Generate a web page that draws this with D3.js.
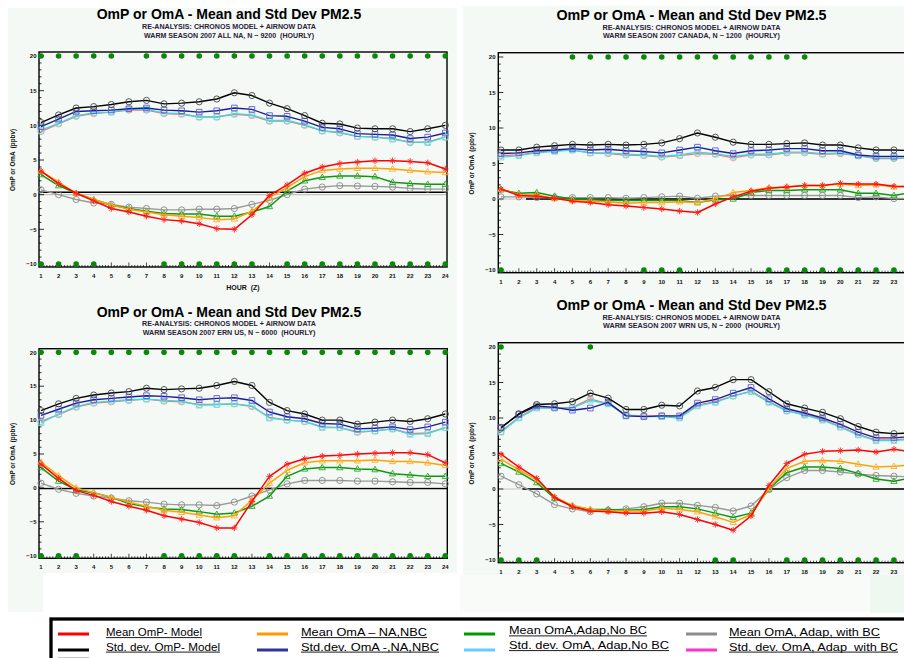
<!DOCTYPE html>
<html>
<head>
<meta charset="utf-8">
<script src="https://cdn.jsdelivr.net/npm/d3@7"></script>
<style>
  body { margin: 0; background: #ffffff; }
  svg { display: block; }
</style>
</head>
<body>
<svg id="chart" width="904" height="658"></svg>
<script>
// ---------- data ----------
const hours = d3.range(1, 25);
const yTickValues = [-10, -5, 0, 5, 10, 15, 20];

const titleText = "OmP or OmA - Mean and Std Dev PM2.5";
const subtitleText = "RE-ANALYSIS: CHRONOS MODEL + AIRNOW DATA";
const regionLines = [
  "WARM SEASON 2007 ALL NA, N ~ 9200  (HOURLY)",
  "WARM SEASON 2007 CANADA, N ~ 1200  (HOURLY)",
  "WARM SEASON 2007 ERN US, N ~ 6000  (HOURLY)",
  "WARM SEASON 2007 WRN US, N ~ 2000  (HOURLY)"
];
const yAxisLabel = "OmP or OmA  (ppbv)";
const xAxisLabel = "HOUR  (Z)";

// All North America
const naStdOmP   = [10.4,11.5,12.5,12.7,13.0,13.4,13.6,13.1,13.2,13.4,13.8,14.7,14.3,13.2,12.4,11.4,10.3,10.2,9.6,9.5,9.5,9.1,9.5,10.0];
const naStdNBC   = [9.8,10.9,12.0,12.1,12.2,12.4,12.5,12.2,12.1,11.9,12.1,12.5,12.3,11.4,11.3,10.6,9.7,9.5,8.8,8.7,8.6,8.1,8.3,8.9];
const naStdAdap  = [9.3,10.3,11.4,11.8,11.9,12.3,12.3,11.8,11.7,11.2,11.2,11.7,11.5,10.7,10.7,10.1,9.2,9.0,8.4,8.3,8.0,7.6,7.5,8.3];
const naStdBC    = [9.1,10.2,11.3,11.7,11.9,12.2,12.2,11.7,11.6,11.2,11.2,11.6,11.4,10.6,10.6,10.0,9.2,8.9,8.4,8.3,8.1,7.5,7.6,8.3];
const naMeanOmP  = [3.4,1.6,0.2,-0.9,-2.0,-2.5,-3.1,-3.6,-3.8,-4.2,-4.9,-5.0,-2.9,-0.1,1.4,3.1,4.0,4.5,4.7,4.9,4.9,4.8,4.6,3.7];
const naMeanNBC  = [3.4,1.8,0.2,-0.7,-1.5,-2.1,-2.5,-2.9,-3.1,-3.3,-3.6,-3.5,-2.4,-0.4,1.0,2.6,3.5,3.7,3.8,3.8,3.7,3.5,3.3,3.2];
const naMeanAdap = [2.9,1.3,0.2,-0.7,-1.5,-2.0,-2.4,-2.7,-2.8,-2.8,-3.1,-3.1,-2.5,-1.7,0.5,2.0,2.5,2.7,2.7,2.6,1.8,1.6,1.5,1.5];
const naMeanBC   = [0.7,0.0,-0.7,-1.2,-1.4,-1.8,-2.0,-2.2,-2.2,-2.1,-2.1,-2.0,-1.4,-0.8,0.0,0.8,1.1,1.3,1.25,1.2,1.1,0.9,0.8,0.8];

// Canada
const caStdOmP   = [6.9,6.9,7.3,7.5,7.7,7.6,7.7,7.6,7.7,7.9,8.5,9.3,8.7,8.0,7.7,7.7,7.8,7.9,7.6,7.6,7.2,6.9,6.9,6.8];
const caStdNBC   = [6.4,6.5,6.8,6.9,7.1,6.9,7.0,6.8,6.7,6.5,6.9,7.3,6.8,6.4,6.8,6.9,7.1,7.1,6.8,6.8,6.2,6.0,6.0,6.0];
const caStdAdap  = [5.9,6.1,6.5,6.7,6.9,6.5,6.5,6.3,6.2,6.0,6.2,6.6,6.4,6.0,6.3,6.3,6.6,6.6,6.4,6.5,6.1,5.8,5.8,5.8];
const caStdBC    = [6.1,6.2,6.6,6.8,6.9,6.5,6.4,6.2,6.1,5.9,6.1,6.4,6.3,5.8,6.2,6.2,6.5,6.5,6.3,6.4,6.1,5.7,5.7,5.8];
const caMeanOmP  = [1.4,0.5,0.4,0.1,-0.3,-0.5,-0.8,-1.0,-1.2,-1.4,-1.7,-1.9,-0.7,0.3,1.1,1.5,1.7,1.9,1.9,2.2,2.1,2.1,1.8,1.7];
const caMeanNBC  = [1.4,0.6,0.6,0.05,-0.2,-0.3,-0.4,-0.6,-0.5,-0.5,-0.4,-0.5,0.05,0.9,1.2,1.6,1.7,1.9,1.9,2.1,1.9,2.0,1.7,1.8];
const caMeanAdap = [1.3,0.8,0.9,0.4,0.0,-0.1,-0.2,-0.2,-0.2,-0.2,-0.2,-0.5,-0.1,0.0,0.9,1.2,1.2,1.3,1.3,1.3,0.8,0.8,0.5,0.9];
const caMeanBC   = [0.3,0.3,0.2,0.2,0.2,0.2,0.2,0.1,0.2,0.3,0.4,0.1,0.4,0.5,0.5,0.5,0.5,0.5,0.5,0.5,0.2,0.3,0.05,0.1];

// Eastern US
const eStdOmP    = [11.4,12.4,13.2,13.7,14.0,14.2,14.7,14.5,14.6,14.7,15.1,15.7,15.1,12.6,11.4,10.9,10.0,10.0,9.4,9.7,10.0,9.8,10.2,10.9];
const eStdNBC    = [10.7,11.6,12.5,13.0,13.2,13.4,13.6,13.5,13.3,13.0,13.2,13.3,12.9,11.2,10.5,10.2,9.5,9.4,8.7,8.8,9.0,8.6,9.0,9.7];
const eStdAdap   = [9.6,10.9,12.0,12.6,12.8,13.0,13.1,12.9,12.8,12.2,12.3,12.4,12.1,10.3,10.0,9.8,8.9,8.9,8.3,8.4,8.7,7.9,8.0,8.9];
const eStdBC     = [9.8,10.8,11.9,12.5,12.7,12.9,13.1,12.8,12.7,12.3,12.3,12.4,12.0,10.4,10.0,9.8,9.0,8.9,8.2,8.4,8.7,8.0,8.1,8.9];
const eMeanOmP   = [3.5,1.4,-0.4,-1.1,-2.0,-2.7,-3.3,-4.1,-4.6,-5.1,-5.9,-5.9,-2.0,1.7,3.5,4.3,4.7,4.8,5.0,5.1,5.2,5.2,4.9,3.7];
const eMeanNBC   = [3.8,1.8,0.0,-0.7,-1.4,-2.1,-2.7,-3.3,-3.6,-4.0,-4.4,-4.1,-1.8,0.7,2.6,3.7,4.0,4.0,4.0,4.1,3.9,3.9,3.7,3.3];
const eMeanAdap  = [3.0,1.0,-0.3,-0.7,-1.4,-2.3,-2.8,-3.1,-3.2,-3.5,-3.9,-3.7,-2.7,-1.2,1.7,2.8,3.0,3.0,2.8,2.7,2.1,1.9,1.7,1.7];
const eMeanBC    = [0.7,-0.2,-0.8,-1.2,-1.5,-1.9,-2.1,-2.4,-2.5,-2.5,-2.6,-2.1,-1.2,-0.3,0.6,1.1,1.1,1.1,1.0,1.0,0.9,0.8,0.8,0.6];

// Western US
const wStdOmP    = [8.6,10.6,11.9,12.0,12.3,13.5,12.8,11.2,11.2,11.8,11.7,13.8,14.3,15.4,15.4,13.7,12.0,11.4,10.8,9.9,8.8,8.0,7.8,7.9];
const wStdNBC    = [8.7,10.5,11.7,11.5,11.1,11.4,12.2,10.3,10.2,10.3,10.3,12.1,12.6,13.5,14.3,12.7,11.3,10.7,10.0,9.1,8.0,7.2,7.2,7.4];
const wStdAdap   = [8.0,10.0,11.4,11.4,11.4,12.5,12.0,10.4,10.2,10.2,10.0,11.7,12.2,13.1,13.7,12.2,11.0,10.4,9.7,8.7,7.6,6.8,6.8,7.0];
const wStdBC     = [8.1,10.1,11.5,11.4,11.5,12.7,12.0,10.4,10.3,10.3,10.1,11.8,12.3,13.1,13.8,12.3,11.0,10.5,9.8,8.8,7.7,6.9,6.9,7.1];
const wMeanOmP   = [4.9,3.1,1.5,-1.2,-2.5,-3.1,-3.2,-3.4,-3.4,-3.2,-3.6,-4.3,-5.0,-5.8,-3.8,0.5,3.6,4.9,5.3,5.4,5.5,5.2,5.6,5.2];
const wMeanNBC   = [4.2,2.7,1.3,-1.1,-2.3,-2.9,-3.1,-3.1,-3.1,-2.7,-2.9,-3.2,-3.9,-4.7,-3.6,0.1,2.9,3.9,4.0,3.9,3.5,3.1,3.2,3.4];
const wMeanAdap  = [3.6,2.4,0.9,-1.3,-2.4,-2.9,-2.9,-3.0,-2.9,-2.5,-2.5,-2.8,-3.4,-4.0,-3.4,0.0,2.3,3.1,3.1,2.9,2.2,1.4,1.1,1.6];
const wMeanBC    = [1.8,0.6,-0.7,-2.2,-2.8,-3.2,-3.0,-2.8,-2.5,-2.0,-2.0,-2.3,-2.6,-3.1,-2.4,-0.1,1.6,2.6,2.6,2.4,2.1,1.9,1.8,1.7];

// hours flagged with a dot on the top (20) and bottom (-10) rows
const naFlagTop = [1,2,3,4,5,7,8,9,10,11,12,13,14,15,16,17,18,19,20,21,22,23,24];
const naFlagBot = [1,2,3,4,8,9,10,11,12,13,15,16,17,18,19,20,21,22,23,24];
const caFlagTop = [5,6,7,8,9,10,11,12,13,14,15,16,17,18];
const caFlagBot = [1,9,10,11,16,17,18,19,20,21,22,23];
const eFlagTop  = hours.slice();
const eFlagBot  = [1,2,3,8,9,10,11,12,14,15,16,17,18,19,20,21,22,23,24];
const wFlagTop  = [1,6];
const wFlagBot  = [1,2,3,13,14,17,18,19,20,21,22,23];

// zero reference line level and the hour where the dark line starts
const refLevel = [0.35, 0, -0.1, 0];
const refStart = [null, 2.4, null, 2.2];

const legendLabels = [
  ["Mean OmP- Model", "Std. dev. OmP- Model"],
  ["Mean OmA \u2013 NA,NBC", "Std.dev. OmA -,NA,NBC"],
  ["Mean OmA,Adap,No BC", "Std. dev. OmA, Adap,No BC"],
  ["Mean OmA, Adap, with BC", "Std. dev. OmA, Adap  with BC"]
];

// ---------- styles ----------
const style = {
  stdBC:    { line: "#ff6f6f", mark: "#ff8a8a", shape: "circle", w: 1.3 },
  stdAdap:  { line: "#33dede", mark: "#55e6e6", shape: "square", w: 1.3 },
  stdNBC:   { line: "#1c1c90", mark: "#5a5ae0", shape: "square", w: 1.4 },
  stdOmP:   { line: "#000000", mark: "#444444", shape: "circle", w: 1.4 },
  meanBC:   { line: "#9a9a9a", mark: "#8a8a8a", shape: "circle", w: 1.4 },
  meanAdap: { line: "#0f960f", mark: "#2aa52a", shape: "triangle", w: 1.5 },
  meanNBC:  { line: "#ffa200", mark: "#ffae30", shape: "triangle", w: 1.5 },
  meanOmP:  { line: "#ff0000", mark: "#ff2020", shape: "star", w: 1.5 }
};
const legendSwatch = [
  ["#ff0000", "#000000"],
  ["#ff9900", "#333399"],
  ["#009900", "#66ccff"],
  ["#8c8c8c", "#ff33cc"]
];

const panels = [
  { series: { stdBC: naStdBC, stdAdap: naStdAdap, stdNBC: naStdNBC, stdOmP: naStdOmP,
              meanBC: naMeanBC, meanAdap: naMeanAdap, meanNBC: naMeanNBC, meanOmP: naMeanOmP },
    flagTop: naFlagTop, flagBot: naFlagBot, region: regionLines[0], ref: 0,
    frame: [39, 447, 52, 267], xr: [41, 445.3], yr: [264, 56],
    cx: 229, titleY: 19, sub1Y: 28.8, sub2Y: 37.6, subW: [174, 170], titleSize: 14,
    tickLabX: 36.5, yLabX: 14.5, hourLabel: true },
  { series: { stdBC: caStdBC, stdAdap: caStdAdap, stdNBC: caStdNBC, stdOmP: caStdOmP,
              meanBC: caMeanBC, meanAdap: caMeanAdap, meanNBC: caMeanNBC, meanOmP: caMeanOmP },
    flagTop: caFlagTop, flagBot: caFlagBot, region: regionLines[1], ref: 1,
    frame: [498.3, 916, 52.7, 272.7], xr: [501, 911.8], yr: [270, 57],
    cx: 691.5, titleY: 19.8, sub1Y: 29.5, sub2Y: 38.3, subW: [178, 177], titleSize: 14.3,
    tickLabX: 495.5, yLabX: 473.5, hourLabel: false },
  { series: { stdBC: eStdBC, stdAdap: eStdAdap, stdNBC: eStdNBC, stdOmP: eStdOmP,
              meanBC: eMeanBC, meanAdap: eMeanAdap, meanNBC: eMeanNBC, meanOmP: eMeanOmP },
    flagTop: eFlagTop, flagBot: eFlagBot, region: regionLines[2], ref: 2,
    frame: [39, 447.3, 348.7, 558.3], xr: [41, 445.3], yr: [555.7, 352.3],
    cx: 229, titleY: 317, sub1Y: 326.3, sub2Y: 335, subW: [174, 172.7], titleSize: 14,
    tickLabX: 36.5, yLabX: 14.5, hourLabel: false },
  { series: { stdBC: wStdBC, stdAdap: wStdAdap, stdNBC: wStdNBC, stdOmP: wStdOmP,
              meanBC: wMeanBC, meanAdap: wMeanAdap, meanNBC: wMeanNBC, meanOmP: wMeanOmP },
    flagTop: wFlagTop, flagBot: wFlagBot, region: regionLines[3], ref: 3,
    frame: [498.3, 916, 342.7, 562.7], xr: [501, 911.8], yr: [560, 347],
    cx: 691.5, titleY: 309.8, sub1Y: 319.6, sub2Y: 328.3, subW: [178, 177], titleSize: 14.3,
    tickLabX: 495.5, yLabX: 473.5, hourLabel: false }
];

const drawOrder = ["stdBC", "stdAdap", "stdNBC", "stdOmP", "meanBC", "meanAdap", "meanNBC", "meanOmP"];

// ---------- drawing ----------
const W = 904;
const svg = d3.select("#chart");
const FONT = "'Liberation Sans', Arial, sans-serif";
const bg = "#f4f9f5";

// light backing areas behind the panels
[[8, 8, 449, 565, bg], [8, 573, 35, 39, bg], [463, 6, 441, 569, bg],
 [460, 575, 410, 37, "#f8fbf8"], [870, 575, 34, 38, "#eef7f0"]]
  .forEach(([x, y, w, h, c]) => svg.append("rect").attr("x", x).attr("y", y)
    .attr("width", w).attr("height", h).attr("fill", c));

function markerPath(shape) {
  switch (shape) {
    case "circle": return d3.symbol(d3.symbolCircle, 30)();
    case "square": return "M-2.8,-2.8H2.8V2.8H-2.8Z";
    case "triangle": return "M0,-3.3L3.1,2.2H-3.1Z";
    case "star": return "M-3.2,0H3.2M0,-3.2V3.2M-2.2,-2.2L2.2,2.2M-2.2,2.2L2.2,-2.2";
  }
}

panels.forEach((p) => {
  const g = svg.append("g");
  const x = d3.scaleLinear().domain([1, 24]).range(p.xr);
  const y = d3.scaleLinear().domain([-10, 20]).range(p.yr);
  const [fx0, fx1, fy0, fy1] = p.frame;

  // titles
  g.append("text").attr("x", p.cx).attr("y", p.titleY).attr("text-anchor", "middle")
    .attr("font-family", FONT).attr("font-weight", "bold").attr("font-size", p.titleSize)
    .attr("fill", "#000").text(titleText);
  g.append("text").attr("x", p.cx).attr("y", p.sub1Y).attr("text-anchor", "middle")
    .attr("font-family", FONT).attr("font-weight", "bold").attr("font-size", 7)
    .attr("textLength", p.subW[0]).attr("lengthAdjust", "spacingAndGlyphs")
    .attr("fill", "#2a2238").text(subtitleText);
  g.append("text").attr("x", p.cx).attr("y", p.sub2Y).attr("text-anchor", "middle")
    .attr("font-family", FONT).attr("font-weight", "bold").attr("font-size", 7)
    .attr("textLength", p.subW[1]).attr("lengthAdjust", "spacingAndGlyphs")
    .style("white-space", "pre").attr("fill", "#2a2238").text(p.region);

  // zero reference lines
  g.append("line").attr("x1", fx0).attr("x2", fx1).attr("y1", y(0)).attr("y2", y(0))
    .attr("stroke", "#c4c4c4").attr("stroke-width", 1.2);
  const rs = refStart[p.ref];
  g.append("line").attr("x1", rs === null ? fx0 : x(rs)).attr("x2", fx1)
    .attr("y1", y(refLevel[p.ref])).attr("y2", y(refLevel[p.ref]))
    .attr("stroke", rs === null ? "#000" : "#333").attr("stroke-width", rs === null ? 1.3 : 1.8);

  // frame
  g.append("rect").attr("x", fx0).attr("y", fy0).attr("width", fx1 - fx0).attr("height", fy1 - fy0)
    .attr("fill", "none").attr("stroke", "#000").attr("stroke-width", 1.4);

  // y ticks (minor every unit, major every 5)
  g.selectAll(null).data(d3.range(-10, 21)).enter().append("line")
    .attr("x1", fx0).attr("x2", d => fx0 + (d % 5 === 0 ? 5 : 2.5))
    .attr("y1", d => y(d)).attr("y2", d => y(d))
    .attr("stroke", "#000").attr("stroke-width", 0.8);
  g.selectAll(null).data(yTickValues).enter().append("text")
    .attr("x", p.tickLabX).attr("y", d => y(d) + 2.2).attr("text-anchor", "end")
    .attr("font-family", FONT).attr("font-weight", "bold").attr("font-size", 6)
    .attr("fill", "#111").text(d => d < 0 ? "\u2212" + Math.abs(d) : d);

  // x ticks (minor every sixth of an hour, major each hour)
  const step = (p.xr[1] - p.xr[0]) / 23;
  const minor = d3.range(Math.ceil((fx0 - p.xr[0]) / (step / 6)), Math.floor((Math.min(fx1, W) - p.xr[0]) / (step / 6)) + 1)
    .map(i => 1 + i / 6);
  g.selectAll(null).data(minor).enter().append("line")
    .attr("x1", d => x(d)).attr("x2", d => x(d))
    .attr("y1", fy1).attr("y2", d => fy1 - (Math.abs(d - Math.round(d)) < 1e-6 ? 4.5 : 2))
    .attr("stroke", "#000").attr("stroke-width", 0.7);
  // hour labels that fall inside the page width
  g.selectAll(null).data(hours.filter(h => x(h) + 5 < W)).enter().append("text")
    .attr("x", d => x(d)).attr("y", fy1 + 11).attr("text-anchor", "middle")
    .attr("font-family", FONT).attr("font-weight", "bold").attr("font-size", 6)
    .attr("fill", "#111").text(d => d);

  // axis titles
  g.append("text").attr("transform", `translate(${p.yLabX},${y(5)}) rotate(-90)`)
    .attr("text-anchor", "middle").attr("font-family", FONT).attr("font-weight", "bold")
    .attr("font-size", 6.3).attr("textLength", 62).attr("lengthAdjust", "spacingAndGlyphs")
    .style("white-space", "pre").attr("fill", "#111").text(yAxisLabel);
  if (p.hourLabel) {
    g.append("text").attr("x", 243).attr("y", 289.6).attr("text-anchor", "middle")
      .attr("font-family", FONT).attr("font-weight", "bold").attr("font-size", 7)
      .style("white-space", "pre").attr("fill", "#111").text(xAxisLabel);
  }

  // series lines and markers
  const line = d3.line().x((d, i) => x(hours[i])).y(d => y(d));
  drawOrder.forEach(key => {
    const s = style[key];
    const vals = p.series[key];
    g.append("path").datum(vals).attr("d", line).attr("fill", "none")
      .attr("stroke", s.line).attr("stroke-width", s.w).attr("stroke-linejoin", "round");
    g.selectAll(null).data(vals).enter().append("path")
      .attr("transform", (d, i) => `translate(${x(hours[i])},${y(d)})`)
      .attr("d", markerPath(s.shape)).attr("fill", "none")
      .attr("stroke", s.mark).attr("stroke-width", 0.9);
  });

  // significance dots on top and bottom rows
  g.selectAll(null).data(p.flagTop).enter().append("circle")
    .attr("cx", d => x(d)).attr("cy", y(20)).attr("r", 2.8).attr("fill", "#078a07");
  g.selectAll(null).data(p.flagBot).enter().append("circle")
    .attr("cx", d => x(d)).attr("cy", y(-10)).attr("r", 2.8).attr("fill", "#078a07");
});

// ---------- legend ----------
const lg = svg.append("g");
lg.append("rect").attr("x", 51).attr("y", 619).attr("width", 900).attr("height", 100)
  .attr("fill", "#fff").attr("stroke", "#000").attr("stroke-width", 3.3);

const lineX = [58, 257, 464, 686];
const textX = [106, 301, 509, 729];
const textW = [[96, 114], [126, 138], [138, 160], [151, 169]];
const swatchY = [634, 650];
const baseY = [[636, 650.5], [636, 650.5], [634.3, 649], [636, 650.5]];

legendLabels.forEach((pair, c) => {
  pair.forEach((label, r) => {
    lg.append("line").attr("x1", lineX[c]).attr("x2", lineX[c] + 31)
      .attr("y1", swatchY[r]).attr("y2", swatchY[r])
      .attr("stroke", legendSwatch[c][r]).attr("stroke-width", 3);
    lg.append("text").attr("x", textX[c]).attr("y", baseY[c][r])
      .attr("font-family", FONT).attr("font-size", 11)
      .attr("textLength", textW[c][r]).attr("lengthAdjust", "spacingAndGlyphs")
      .style("white-space", "pre").attr("fill", "#000").text(label);
    lg.append("line").attr("x1", textX[c]).attr("x2", textX[c] + textW[c][r])
      .attr("y1", baseY[c][r] + 1.6).attr("y2", baseY[c][r] + 1.6)
      .attr("stroke", "#000").attr("stroke-width", 0.9);
  });
});
// start of a third legend row below the visible area
lg.append("line").attr("x1", lineX[0]).attr("x2", lineX[0] + 31)
  .attr("y1", 659).attr("y2", 659).attr("stroke", "#8c8c8c").attr("stroke-width", 3);
</script>
</body>
</html>
